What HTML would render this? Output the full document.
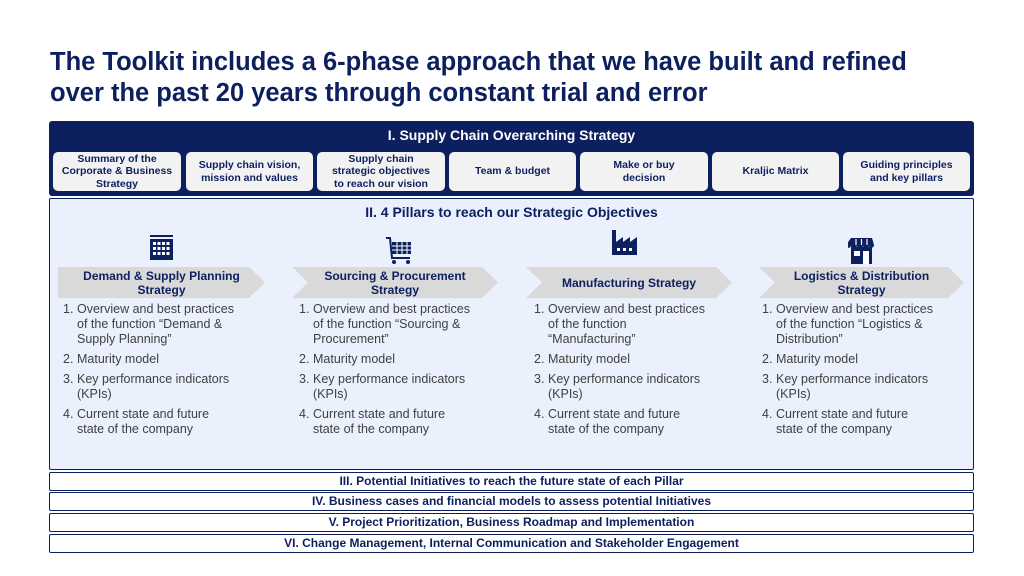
<!DOCTYPE html>
<html><head><meta charset="utf-8"><style>
*{margin:0;padding:0;box-sizing:border-box}
body{width:1024px;height:576px;background:#fff;position:relative;font-family:"Liberation Sans",Arial,sans-serif;overflow:hidden}
.a{position:absolute}
h1{position:absolute;left:50px;top:47px;font-size:25.5px;line-height:31px;color:#0c1f5e;font-weight:bold}
.top{left:49px;top:121px;width:925px;height:75px;background:#0c1f5e;border-radius:3px}
.tt{left:49px;top:127px;width:925px;text-align:center;color:#fff;font-weight:bold;font-size:14px}
.bx{top:152px;height:39px;background:#f2f2f2;border-radius:5px;color:#0c1f5e;font-weight:bold;font-size:10.5px;line-height:12.5px;display:flex;align-items:center;justify-content:center;text-align:center}
.mid{left:49px;top:198px;width:925px;height:272px;background:#eaf0fc;border:1px solid #0c1f5e;border-radius:2px}
.mt{left:49px;top:204px;width:925px;text-align:center;color:#0c1f5e;font-weight:bold;font-size:14px}
.ch{top:267px;height:31px;background:#d9d9d9;color:#0c1f5e;font-weight:bold;font-size:12px;line-height:14px;display:flex;align-items:center;justify-content:center;text-align:center;clip-path:polygon(0 0,calc(100% - 16px) 0,100% 50%,calc(100% - 16px) 100%,0 100%,16px 50%)}
.ch.f{clip-path:polygon(0 0,calc(100% - 16px) 0,100% 50%,calc(100% - 16px) 100%,0 100%)}
ol{position:absolute;top:302px;list-style:none;color:#404040;font-size:12.5px;line-height:15px}
ol li{position:relative;padding-left:14px;margin-bottom:5px}
ol li span{position:absolute;left:0}
.bar{left:49px;width:925px;height:19px;border:1px solid #0c1f5e;border-radius:2px;background:#fff;color:#0c1f5e;font-weight:bold;font-size:12px;line-height:17px;text-align:center}
</style></head><body>
<h1>The Toolkit includes a 6-phase approach that we have built and refined<br>over the past 20 years through constant trial and error</h1>
<div class="a top"></div>
<div class="a tt">I. Supply Chain Overarching Strategy</div>
<div class="a bx" style="left:53px;width:128px">Summary of the<br>Corporate &amp; Business<br>Strategy</div>
<div class="a bx" style="left:186px;width:127px">Supply chain vision,<br>mission and values</div>
<div class="a bx" style="left:317px;width:128px">Supply chain<br>strategic objectives<br>to reach our vision</div>
<div class="a bx" style="left:449px;width:127px">Team &amp; budget</div>
<div class="a bx" style="left:580px;width:128px">Make or buy<br>decision</div>
<div class="a bx" style="left:712px;width:127px">Kraljic Matrix</div>
<div class="a bx" style="left:843px;width:127px">Guiding principles<br>and key pillars</div>
<div class="a mid"></div>
<div class="a mt">II. 4 Pillars to reach our Strategic Objectives</div>
<svg class="a" style="left:149px;top:234px" width="25" height="27" viewBox="0 0 25 27"><rect x="1" y="1" width="23" height="2" fill="#0c1f5e"/><rect x="1" y="5" width="23" height="21" fill="#0c1f5e"/><g fill="#fff"><rect x="4" y="8" width="3" height="3"/><rect x="8.5" y="8" width="3" height="3"/><rect x="13" y="8" width="3" height="3"/><rect x="17.5" y="8" width="3" height="3"/><rect x="4" y="13" width="3" height="3"/><rect x="8.5" y="13" width="3" height="3"/><rect x="13" y="13" width="3" height="3"/><rect x="17.5" y="13" width="3" height="3"/><rect x="4" y="18" width="3" height="3"/><rect x="8.5" y="18" width="3" height="3"/><rect x="13" y="18" width="3" height="3"/><rect x="17.5" y="18" width="3" height="3"/></g></svg>
<svg class="a" style="left:385px;top:236px" width="28" height="29" viewBox="0 0 28 29"><path d="M1 2h4l2 20h18" stroke="#0c1f5e" stroke-width="2" fill="none"/><rect x="7" y="6" width="19" height="12" fill="#0c1f5e"/><g stroke="#fff" stroke-width="1"><line x1="7" y1="10" x2="26" y2="10"/><line x1="7" y1="14" x2="26" y2="14"/><line x1="12" y1="6" x2="12" y2="18"/><line x1="17" y1="6" x2="17" y2="18"/><line x1="22" y1="6" x2="22" y2="18"/></g><circle cx="9" cy="26" r="2" fill="#0c1f5e"/><circle cx="23" cy="26" r="2" fill="#0c1f5e"/></svg>
<svg class="a" style="left:611px;top:229px" width="28" height="27" viewBox="0 0 28 27"><path d="M1 1h4v12l7-5v5l7-5v5l7-5v18H1z" fill="#0c1f5e"/><g fill="#fff"><rect x="6" y="19" width="3" height="3"/><rect x="12" y="19" width="3" height="3"/><rect x="18" y="19" width="3" height="3"/></g></svg>
<svg class="a" style="left:848px;top:237px" width="27" height="28" viewBox="0 0 27 28"><path d="M3 1h21l2 7c0 3-4 4-5 1-1 3-5 3-6 0-1 3-5 3-6 0-1 3-5 3-6 0-1 3-5 2-5-1z" fill="#0c1f5e"/><rect x="3" y="10" width="21" height="17" fill="#0c1f5e"/><rect x="6" y="14" width="6" height="5" fill="#fff"/><rect x="15" y="14" width="6" height="13" fill="#fff"/><g stroke="#fff" stroke-width="1.2"><line x1="8" y1="2" x2="8" y2="8"/><line x1="13.5" y1="2" x2="13.5" y2="8"/><line x1="19" y1="2" x2="19" y2="8"/></g></svg>
<div class="a ch f" style="left:58px;width:207px">Demand &amp; Supply Planning<br>Strategy</div>
<div class="a ch" style="left:292px;width:206px">Sourcing &amp; Procurement<br>Strategy</div>
<div class="a ch" style="left:526px;width:206px">Manufacturing Strategy</div>
<div class="a ch" style="left:759px;width:205px">Logistics &amp; Distribution<br>Strategy</div>
<ol style="left:63px"><li><span>1.</span>Overview and best practices<br>of the function “Demand &amp;<br>Supply Planning”</li><li><span>2.</span>Maturity model</li><li><span>3.</span>Key performance indicators<br>(KPIs)</li><li><span>4.</span>Current state and future<br>state of the company</li></ol>
<ol style="left:299px"><li><span>1.</span>Overview and best practices<br>of the function “Sourcing &amp;<br>Procurement”</li><li><span>2.</span>Maturity model</li><li><span>3.</span>Key performance indicators<br>(KPIs)</li><li><span>4.</span>Current state and future<br>state of the company</li></ol>
<ol style="left:534px"><li><span>1.</span>Overview and best practices<br>of the function<br>“Manufacturing”</li><li><span>2.</span>Maturity model</li><li><span>3.</span>Key performance indicators<br>(KPIs)</li><li><span>4.</span>Current state and future<br>state of the company</li></ol>
<ol style="left:762px"><li><span>1.</span>Overview and best practices<br>of the function “Logistics &amp;<br>Distribution”</li><li><span>2.</span>Maturity model</li><li><span>3.</span>Key performance indicators<br>(KPIs)</li><li><span>4.</span>Current state and future<br>state of the company</li></ol>
<div class="a bar" style="top:472px">III. Potential Initiatives to reach the future state of each Pillar</div>
<div class="a bar" style="top:492px">IV. Business cases and financial models to assess potential Initiatives</div>
<div class="a bar" style="top:513px">V. Project Prioritization, Business Roadmap and Implementation</div>
<div class="a bar" style="top:534px">VI. Change Management, Internal Communication and Stakeholder Engagement</div>
</body></html>
